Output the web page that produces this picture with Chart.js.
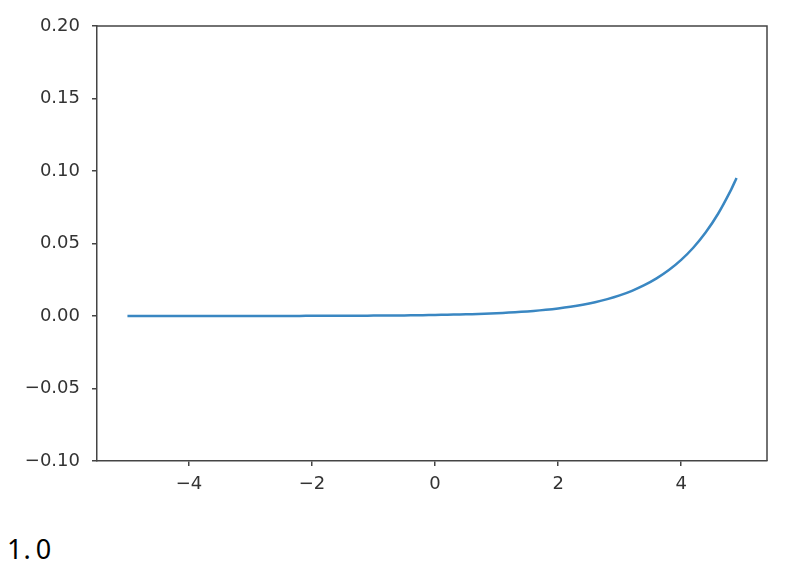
<!DOCTYPE html>
<html>
<head>
<meta charset="utf-8">
<script src="https://cdn.jsdelivr.net/npm/chart.js@4/dist/chart.umd.min.js"></script>
<style>
  body { margin: 0; background: #fff; width: 793px; height: 582px; overflow: hidden; position: relative; }
  #wrap { position: absolute; left: 0; top: 0; width: 793px; height: 500px; }
  #out { position: absolute; left: 7px; top: 535px; font-family: "Noto Sans", "Liberation Sans", sans-serif; font-size: 27px;
    line-height: 27px; color: #000; white-space: nowrap; }
  #out .p { margin-left: 1px; }
  #out .d { margin-left: 5px; }
</style>
</head>
<body>
<div id="wrap"><canvas id="chart"></canvas></div>
<div id="out">1<span class="p">.</span><span class="d">0</span></div>
<script>
// softmax curve
const xs = [-5, -4.8, -4.6, -4.4, -4.2, -4, -3.8, -3.6, -3.4, -3.2, -3, -2.8, -2.6, -2.4, -2.2, -2,
  -1.8, -1.6, -1.4, -1.2, -1, -0.8, -0.6, -0.4, -0.2, 0, 0.2, 0.4, 0.6, 0.8, 1, 1.2, 1.4, 1.6, 1.8, 2,
  2.2, 2.4, 2.6, 2.8, 3, 3.2, 3.4, 3.6, 3.8, 4, 4.2, 4.4, 4.6, 4.8, 4.9];
const ys = [0.000005, 0.000006, 0.000007, 0.000009, 0.000011, 0.000013, 0.000016, 0.000019, 0.000024,
  0.000029, 0.000035, 0.000043, 0.000053, 0.000064, 0.000079, 0.000096, 0.000117, 0.000143, 0.000175,
  0.000213, 0.000261, 0.000318, 0.000389, 0.000475, 0.00058, 0.000709, 0.000866, 0.001057, 0.001291,
  0.001577, 0.001926, 0.002353, 0.002874, 0.00351, 0.004287, 0.005237, 0.006396, 0.007812, 0.009542,
  0.011655, 0.014235, 0.017386, 0.021236, 0.025938, 0.03168, 0.038694, 0.047262, 0.057725, 0.070506,
  0.086116, 0.095172];
const xTicks = [-4, -2, 0, 2, 4];
const yTicks = [-0.1, -0.05, 0, 0.05, 0.1, 0.15, 0.2];

const axisColor = '#444';
const tickFont = { family: 'DejaVu Sans', size: 18 };
const minus = s => s.replace('-', '\u2212');

// top and right spines
const frame = {
  id: 'frame',
  afterDraw(chart) {
    const { ctx, chartArea: a } = chart;
    ctx.save();
    ctx.strokeStyle = axisColor;
    ctx.lineWidth = 1.5;
    ctx.beginPath();
    ctx.moveTo(a.left, a.top);
    ctx.lineTo(a.right, a.top);
    ctx.lineTo(a.right, a.bottom);
    ctx.stroke();
    ctx.restore();
  }
};

new Chart(document.getElementById('chart'), {
  type: 'line',
  data: {
    datasets: [{
      data: xs.map((x, i) => ({ x: x, y: ys[i] })),
      borderColor: '#3a87c2',
      borderWidth: 2.5,
      pointRadius: 0,
      tension: 0.3,
      fill: false
    }]
  },
  options: {
    responsive: true,
    maintainAspectRatio: false,
    animation: false,
    layout: { padding: { top: 26, right: 26, left: 0, bottom: 0 } },
    plugins: { legend: { display: false }, tooltip: { enabled: false } },
    scales: {
      x: {
        type: 'linear',
        min: -5.495,
        max: 5.395,
        afterBuildTicks: s => { s.ticks = xTicks.map(v => ({ value: v })); },
        afterFit: s => { s.height = 39; },
        grid: { drawOnChartArea: false, color: axisColor, tickLength: 5, lineWidth: 1.5 },
        border: { display: true, color: axisColor, width: 1.5 },
        ticks: { color: '#333', font: tickFont, padding: 8, maxRotation: 0,
          callback: v => minus(String(v)) }
      },
      y: {
        min: -0.1,
        max: 0.2,
        afterBuildTicks: s => { s.ticks = yTicks.map(v => ({ value: v })); },
        afterFit: s => { s.width = 97; },
        grid: { drawOnChartArea: false, color: axisColor, tickLength: 5, lineWidth: 1.5 },
        border: { display: true, color: axisColor, width: 1.5 },
        ticks: { color: '#333', font: tickFont, padding: 12,
          callback: v => minus(v.toFixed(2)) }
      }
    }
  },
  plugins: [frame]
});
</script>
</body>
</html>
